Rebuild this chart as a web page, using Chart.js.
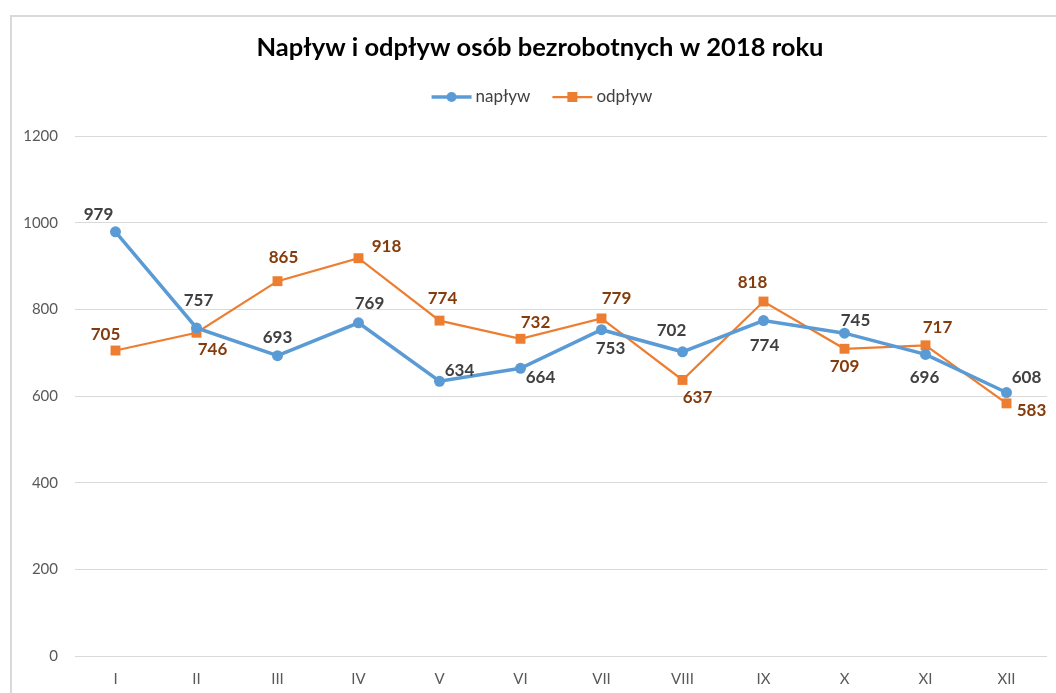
<!DOCTYPE html>
<html lang="pl">
<head>
<meta charset="utf-8">
<title>Napływ i odpływ osób bezrobotnych w 2018 roku</title>
<script src="https://cdn.jsdelivr.net/npm/chart.js@4.4.1/dist/chart.umd.min.js"></script>
<style>
  html, body { margin: 0; padding: 0; background: #fff; overflow: hidden; }
  #frame {
    position: absolute; left: 10px; top: 15px;
    width: 1100px; height: 760px;
    border: 2px solid #d9d9d9; box-sizing: border-box;
  }
  #wrap { position: absolute; left: 0; top: 0; width: 1056px; height: 693px; }
</style>
</head>
<body>
<div id="frame"></div>
<div id="wrap"><canvas id="wykres" width="1056" height="693"></canvas></div>
<script>
// dane z wykresu
const tytul = 'Napływ i odpływ osób bezrobotnych w 2018 roku';
const miesiace = ['I', 'II', 'III', 'IV', 'V', 'VI', 'VII', 'VIII', 'IX', 'X', 'XI', 'XII'];
const naplyw = [979, 757, 693, 769, 634, 664, 753, 702, 774, 745, 696, 608];
const odplyw = [705, 746, 865, 918, 774, 732, 779, 637, 818, 709, 717, 583];
const osY = [0, 200, 400, 600, 800, 1000, 1200];

// przesuniecia etykiet wartosci (px) wzgledem punktu
const przesNaplyw = [[-17, -17], [2, -27], [0, -18], [11, -19], [20, -11], [20, 9],
  [9, 19], [-11, -21], [1, 25], [11, -13], [-1, 23], [20, -15]];
const przesOdplyw = [[-10, -16], [16, 17], [6, -24], [28, -12], [3, -22], [15, -16],
  [15, -20], [15, 18], [-11, -19], [0, 18], [12, -18], [25, 7]];

const NIEBIESKI = '#5B9BD5';
const POMARANCZ = '#ED7D31';
const FONT = 'Lato, "Open Sans", "Liberation Sans", sans-serif';

// etykiety danych (bez pluginu datalabels)
const etykiety = {
  id: 'etykiety',
  afterDatasetsDraw(chart) {
    const ctx = chart.ctx;
    ctx.save();
    ctx.font = 'bold 17px ' + FONT;
    ctx.textAlign = 'center';
    ctx.textBaseline = 'middle';
    chart.data.datasets.forEach((ds, i) => {
      const meta = chart.getDatasetMeta(i);
      ctx.fillStyle = ds.kolorEtykiety;
      meta.data.forEach((pt, j) => {
        const p = ds.przes[j];
        ctx.fillText(ds.data[j], pt.x + p[0], pt.y + p[1]);
      });
    });
    ctx.restore();
  }
};

// tytul + legenda (linia + znacznik jak w Excelu)
const legenda = {
  id: 'legenda',
  afterDraw(chart) {
    const ctx = chart.ctx;
    ctx.save();
    ctx.textBaseline = 'middle';
    ctx.textAlign = 'center';
    ctx.fillStyle = '#000';
    ctx.font = 'bold 25.5px ' + FONT;
    ctx.fillText(tytul, 540, 48);

    const y = 97;
    ctx.font = '17px ' + FONT;
    ctx.textAlign = 'left';
    const items = chart.data.datasets;
    const w = items.map(ds => 40 + 4 + ctx.measureText(ds.label).width);
    const total = w[0] + 22 + w[1];
    let x = 542 - total / 2;
    items.forEach((ds, i) => {
      ctx.strokeStyle = ds.borderColor;
      ctx.lineWidth = ds.borderWidth;
      ctx.beginPath();
      ctx.moveTo(x, y);
      ctx.lineTo(x + 40, y);
      ctx.stroke();
      ctx.fillStyle = ds.borderColor;
      if (ds.pointStyle === 'rect') {
        ctx.fillRect(x + 15, y - 5, 10, 10);
      } else {
        ctx.beginPath();
        ctx.arc(x + 20, y, 5, 0, Math.PI * 2);
        ctx.fill();
      }
      ctx.fillStyle = '#404040';
      ctx.fillText(ds.label, x + 44, y);
      x += w[i] + 22;
    });
    ctx.restore();
  }
};

new Chart(document.getElementById('wykres'), {
  type: 'line',
  data: {
    labels: miesiace,
    datasets: [{
      label: 'napływ',
      data: naplyw,
      przes: przesNaplyw,
      kolorEtykiety: '#404040',
      borderColor: NIEBIESKI,
      backgroundColor: NIEBIESKI,
      borderWidth: 3.5,
      tension: 0,
      pointStyle: 'circle',
      pointRadius: 5.5,
      pointBorderWidth: 0,
      pointHoverRadius: 5.5
    }, {
      label: 'odpływ',
      data: odplyw,
      przes: przesOdplyw,
      kolorEtykiety: '#843C0C',
      borderColor: POMARANCZ,
      backgroundColor: POMARANCZ,
      borderWidth: 2.25,
      tension: 0,
      pointStyle: 'rect',
      pointRadius: 7,
      pointBorderWidth: 0,
      pointHoverRadius: 7
    }]
  },
  options: {
    responsive: false,
    animation: false,
    events: [],
    layout: { padding: { left: 10, right: 9, top: 136, bottom: 0 } },
    plugins: {
      legend: { display: false },
      tooltip: { enabled: false },
      title: { display: false }
    },
    scales: {
      x: {
        offset: true,
        grid: { display: false },
        border: { display: false },
        ticks: { color: '#595959', padding: 6, font: { family: FONT, size: 15 } },
        afterFit(scale) { scale.height = 37; }
      },
      y: {
        min: 0,
        max: 1200,
        afterBuildTicks(scale) { scale.ticks = osY.map(v => ({ value: v })); },
        grid: { color: '#d9d9d9', lineWidth: 1, drawTicks: false },
        border: { display: false },
        ticks: {
          color: '#595959', padding: 17, font: { family: FONT, size: 15 },
          callback: v => String(v)
        },
        afterFit(scale) { scale.width = 65; }
      }
    }
  },
  plugins: [etykiety, legenda]
});
</script>
</body>
</html>
